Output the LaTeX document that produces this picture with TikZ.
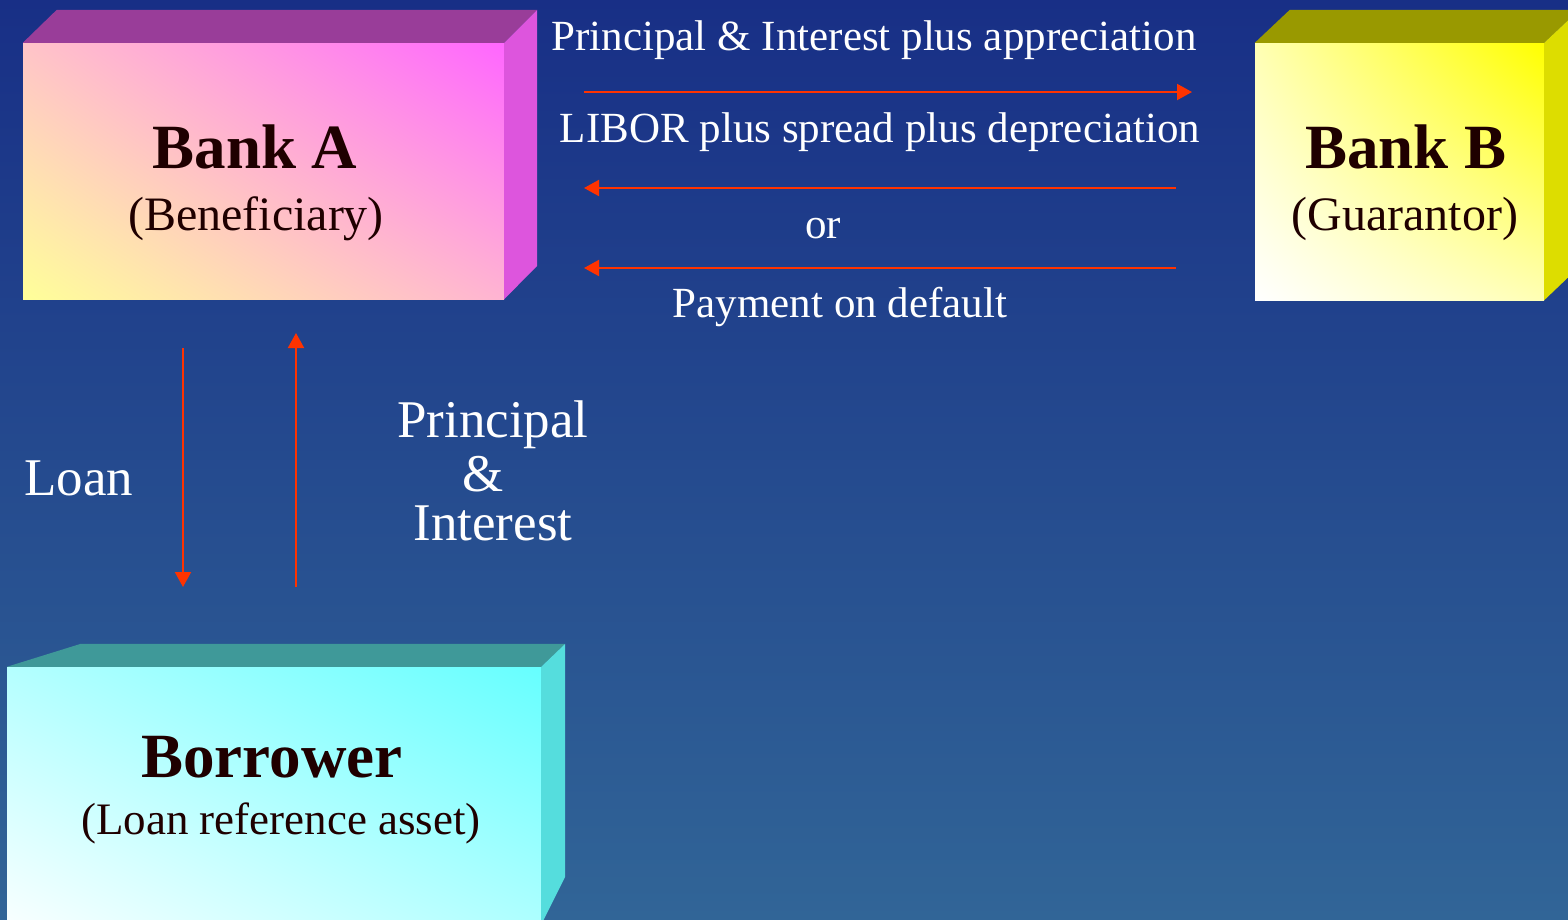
\documentclass[tikz,border=0pt]{standalone}
\usepackage{fontspec}
\setmainfont{Liberation Serif}
\usetikzlibrary{arrows.meta,shadings}

\definecolor{bgtop}{HTML}{182F86}
\definecolor{bgbot}{HTML}{316597}
\definecolor{flowred}{HTML}{FF3300}
\definecolor{ink}{HTML}{1F0000}
% bank A
\definecolor{aUL}{HTML}{FFC4C8}
\definecolor{aUR}{HTML}{FF66FF}
\definecolor{aLL}{HTML}{FFFF99}
\definecolor{aLR}{HTML}{FFB4D2}
\definecolor{aTop}{HTML}{993D99}
\definecolor{aSide}{HTML}{DD55DD}
% bank B
\definecolor{bMid}{HTML}{FFFFB4}
\definecolor{bUR}{HTML}{FFFF00}
\definecolor{bTop}{HTML}{999900}
\definecolor{bSide}{HTML}{DDDD00}
% borrower
\definecolor{cMid}{HTML}{B4FFFF}
\definecolor{cUR}{HTML}{66FFFF}
\definecolor{cTop}{HTML}{3F9999}
\definecolor{cSide}{HTML}{55DDDD}

\begin{document}
\begin{tikzpicture}[x=1pt,y=-1pt
	,every node/.style={inner sep=0}
	,face/.style={rectangle, shade}
	,flow/.style={draw=flowred, line width=2pt, -{Triangle[length=15pt,width=16pt]}}
	,msg/.style={text=white, anchor=base, font=\fontsize{43}{50}\selectfont}
	,bigmsg/.style={text=white, anchor=base, font=\fontsize{53}{60}\selectfont}
	,boxtitle/.style={text=ink, anchor=base, font=\fontsize{63}{70}\selectfont\bfseries}
	,boxsub/.style={text=ink, anchor=base, font=\fontsize{48}{56}\selectfont}
]

\useasboundingbox (0,0) rectangle (1568,919);
\clip (0,0) rectangle (1568,919);
\shade[top color=bgtop, bottom color=bgbot] (0,0) rectangle (1568,919);

% boxes
\node[face, minimum width=481pt, minimum height=256pt
	,upper left=aUL, upper right=aUR, lower left=aLL, lower right=aLR
](bankA) at(263.5,171) {};
\fill[aTop] (bankA.north west) -- ++(34,-33) -- ([shift={(33,-33)}]bankA.north east) -- (bankA.north east) -- cycle;
\fill[aSide] (bankA.north east) -- ++(33,-33) -- ++(0,256) -- (bankA.south east) -- cycle;

\node[face, minimum width=289pt, minimum height=257pt
	,upper left=bMid, upper right=bUR, lower left=white, lower right=bMid
](bankB) at(1399.5,171.5) {};
\fill[bTop] (bankB.north west) -- ++(35,-33) -- ([shift={(35,-33)}]bankB.north east) -- (bankB.north east) -- cycle;
\fill[bSide] (bankB.north east) -- ++(35,-33) -- ++(0,257) -- (bankB.south east) -- cycle;

\node[face, minimum width=534pt, minimum height=280pt
	,upper left=cMid, upper right=cUR, lower left=white, lower right=cMid
](borrower) at(274,807) {};
\fill[cTop] (borrower.north west) -- ++(74,-23) -- ([shift={(24,-23)}]borrower.north east) -- (borrower.north east) -- cycle;
\fill[cSide] (borrower.north east) -- ++(24,-23) -- ++(0,233) -- ++(-24,48) -- cycle;

% box texts
\node[boxtitle](tA) at(255,168) {Bank A};
\node[boxsub](sA) at(256,230) {(Beneficiary)};
\node[boxtitle](tB) at(1406,168) {Bank B};
\node[boxsub](sB) at(1405,230) {(Guarantor)};
\node[boxtitle](tC) at(272,777) {Borrower};
\node[boxsub, font=\fontsize{45}{52}\selectfont](sC) at(281,834) {(Loan reference asset)};

% flows between the banks
\foreach \n/\xa/\xb/\y in {pay/584/1192/92, libor/1176/584/188, dflt/1176/584/268}{
	\coordinate(\n s) at(\xa,\y);
	\coordinate(\n e) at(\xb,\y);
	\draw[flow] (\n s) -- (\n e);
}
\node[msg](msgPay) at(874,50) {Principal \& Interest plus appreciation};
\node[msg](msgLibor) at(880,142) {LIBOR plus spread plus depreciation};
\node[msg](msgOr) at(823,238) {or};
\node[msg](msgDflt) at(840,317) {Payment on default};

% flows between bank A and the borrower
\coordinate(loans) at(183,348);
\coordinate(loane) at(183,587);
\coordinate(repays) at(296,587);
\coordinate(repaye) at(296,333);
\draw[flow] (loans) -- (loane);
\draw[flow] (repays) -- (repaye);
\node[bigmsg](msgLoan) at(79,495) {Loan};
\node[bigmsg](msgPrin) at(493,437) {Principal};
\node[bigmsg](msgAmp) at(483,491) {\&};
\node[bigmsg](msgInt) at(493,540) {Interest};

\end{tikzpicture}
\end{document}
